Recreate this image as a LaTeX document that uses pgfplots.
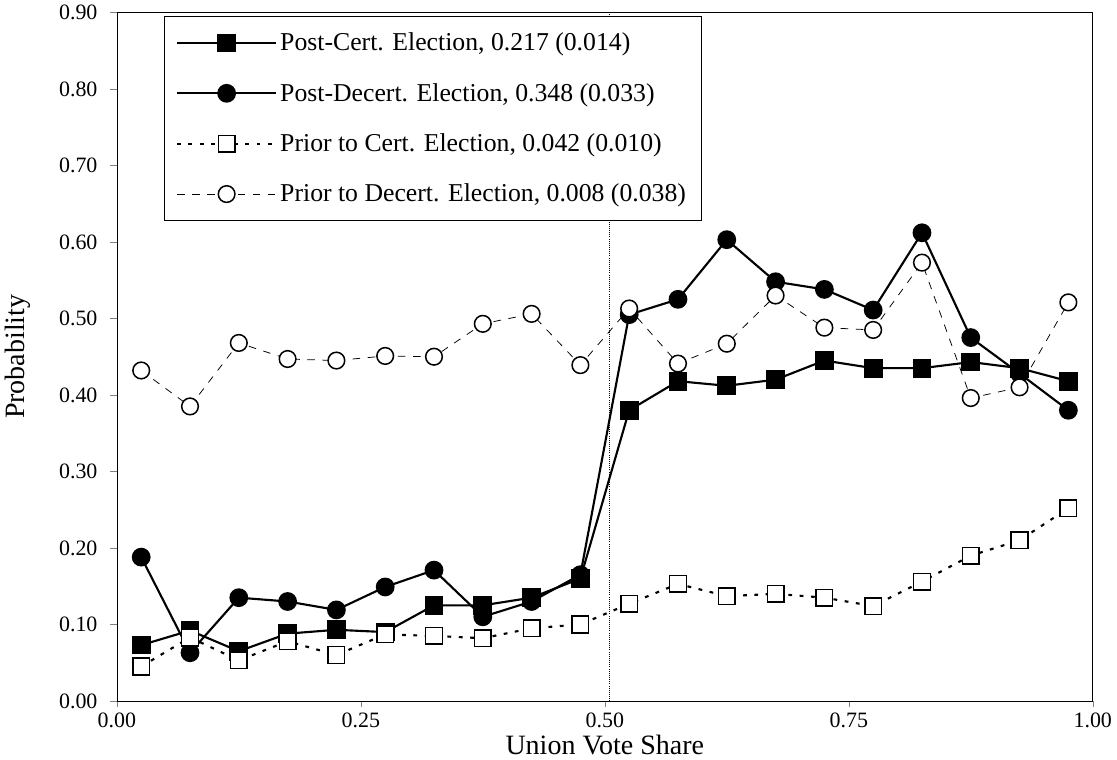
\documentclass[border=0pt]{standalone}
\usepackage{pgfplots}
\pgfplotsset{compat=1.18}
\usepackage{fontspec}
\setmainfont{Liberation Serif}
\begin{document}
\begin{tikzpicture}
\begin{axis}[
  scale only axis, width=645pt, height=455pt,
  xmin=0, xmax=1, ymin=0, ymax=0.9,
  xtick={0,0.25,0.5,0.75,1}, ytick={0,0.1,...,0.9},
  xticklabel style={/pgf/number format/.cd,fixed,fixed zerofill,precision=2},
  yticklabel style={xshift=-5pt,/pgf/number format/.cd,fixed,fixed zerofill,precision=2},
  /pgf/number format/assume math mode=true,
  tick label style={font=\fontsize{14.5}{16}\selectfont},
  tick align=outside, tick pos=left,
  xlabel={Union Vote Share}, ylabel={Probability},
  label style={font=\fontsize{18.5}{20}\selectfont},
  xlabel style={yshift=2pt},
  ylabel style={yshift=12pt},
  legend style={at={(0.048,0.995)}, anchor=north west, font=\fontsize{17}{20}\selectfont, draw=black, row sep=16pt, inner xsep=8pt, inner ysep=9pt},
  legend cell align=left,
  legend image code/.code={\draw[#1] (0cm,0cm) -- (2.3cm,0cm); \draw[#1] plot coordinates {(1.15cm,0cm)};},
  every axis plot/.append style={mark size=5.5pt},
]
\addplot[black, line width=1.4pt, mark=square*] coordinates {
(0.025,0.073)(0.075,0.092)(0.125,0.065)(0.175,0.088)(0.225,0.093)(0.275,0.090)(0.325,0.125)(0.375,0.125)(0.425,0.135)(0.475,0.160)
(0.525,0.380)(0.575,0.418)(0.625,0.412)(0.675,0.420)(0.725,0.445)(0.775,0.435)(0.825,0.435)(0.875,0.443)(0.925,0.435)(0.975,0.418)};
\addlegendentry{Post-Cert. Election, 0.217 (0.014)}
\addplot[black, line width=1.4pt, mark=*] coordinates {
(0.025,0.188)(0.075,0.063)(0.125,0.135)(0.175,0.130)(0.225,0.119)(0.275,0.149)(0.325,0.171)(0.375,0.110)(0.425,0.130)(0.475,0.165)
(0.525,0.505)(0.575,0.525)(0.625,0.603)(0.675,0.548)(0.725,0.538)(0.775,0.511)(0.825,0.612)(0.875,0.475)(0.925,0.428)(0.975,0.380)};
\addlegendentry{Post-Decert. Election, 0.348 (0.033)}
\addplot[black, line width=1.4pt, dash pattern=on 2.5pt off 5pt, mark=square*, mark options={fill=white,solid,line width=1pt}] coordinates {
(0.025,0.045)(0.075,0.083)(0.125,0.053)(0.175,0.078)(0.225,0.060)(0.275,0.087)(0.325,0.085)(0.375,0.082)(0.425,0.095)(0.475,0.100)
(0.525,0.127)(0.575,0.153)(0.625,0.137)(0.675,0.140)(0.725,0.135)(0.775,0.124)(0.825,0.156)(0.875,0.190)(0.925,0.210)(0.975,0.252)};
\addlegendentry{Prior to Cert. Election, 0.042 (0.010)}
\addplot[black, line width=0.5pt, dash pattern=on 5pt off 5pt, mark=*, mark options={fill=white,solid,line width=1pt}] coordinates {
(0.025,0.432)(0.075,0.385)(0.125,0.468)(0.175,0.447)(0.225,0.445)(0.275,0.451)(0.325,0.450)(0.375,0.493)(0.425,0.506)(0.475,0.439)
(0.525,0.513)(0.575,0.441)(0.625,0.467)(0.675,0.530)(0.725,0.488)(0.775,0.485)(0.825,0.573)(0.875,0.396)(0.925,0.410)(0.975,0.521)};
\addlegendentry{Prior to Decert. Election, 0.008 (0.038)}
\addplot[black, densely dotted, forget plot] coordinates {(0.505,0)(0.505,0.9)};
\end{axis}
\end{tikzpicture}
\end{document}
